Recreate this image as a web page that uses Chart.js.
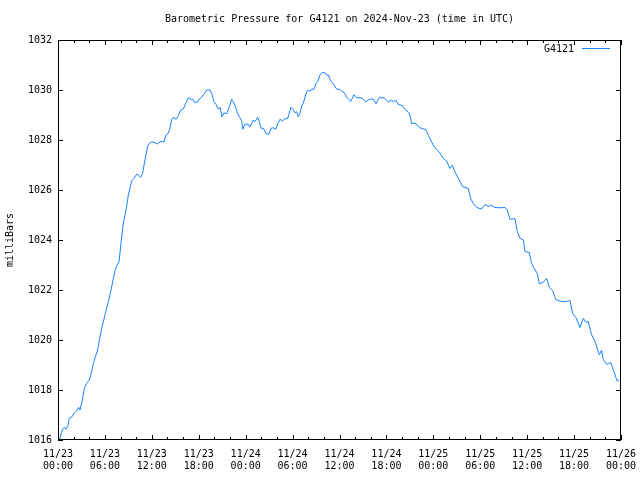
<!DOCTYPE html>
<html lang="en">
<head>
    <meta charset="UTF-8">
    <title>Barometric Pressure for G4121</title>
    <script src="https://cdn.jsdelivr.net/npm/chart.js"></script>
    <style>
        body { margin: 0; background: #fff; }
        #wrap { width: 640px; height: 480px; }
    </style>
</head>
<body>
    <div id="wrap">
        <canvas id="pressureChart" width="640" height="480"></canvas>
    </div>

    <script>
        // hours since 11/23 00:00 UTC
        const hours = [
            0.13, 0.2, 0.45, 0.6, 0.81, 1.02, 1.24, 1.45, 1.79, 2.09, 2.39, 2.64, 2.81, 3.07, 3.37, 3.67,
            4.01, 4.26, 4.52, 4.77, 5.07, 5.28, 5.58, 6.01, 6.44, 6.78, 7.08, 7.37, 7.63, 7.8, 7.97, 8.14,
            8.35, 8.57, 8.78, 8.99, 9.21, 9.42, 9.72, 10.06, 10.27, 10.57, 10.83, 11.04, 11.25, 11.47, 11.76, 11.98,
            12.4, 12.7, 13.04, 13.55, 13.81, 14.1, 14.32, 14.54, 14.83, 15.09, 15.38, 15.69, 16.03, 16.33, 16.67, 16.97,
            17.22, 17.43, 17.81, 18.07, 18.37, 18.67, 19.01, 19.44, 19.69, 19.95, 20.2, 20.5, 20.72, 20.97, 21.23, 21.57,
            21.83, 22.0, 22.21, 22.42, 22.67, 22.93, 23.19, 23.49, 23.62, 23.91, 24.34, 24.55, 24.98, 25.19, 25.53, 25.75,
            25.96, 26.26, 26.47, 26.69, 26.98, 27.24, 27.53, 27.84, 28.09, 28.39, 28.69, 28.94, 29.37, 29.58, 29.8, 30.09,
            30.31, 30.52, 30.73, 30.95, 31.16, 31.37, 31.59, 31.8, 32.01, 32.23, 32.44, 32.74, 32.95, 33.21, 33.5, 33.8,
            34.14, 34.36, 34.57, 34.78, 35.08, 35.33, 35.64, 36.06, 36.36, 36.62, 36.92, 37.43, 37.85, 38.2, 38.84, 39.35,
            39.68, 39.99, 40.32, 40.66, 41.09, 41.69, 42.24, 42.67, 42.88, 43.18, 43.52, 44.07, 44.37, 44.93, 45.23, 45.65,
            46.29, 47.06, 47.36, 47.78, 48.21, 48.76, 49.28, 49.7, 50.13, 50.43, 50.77, 51.2, 51.75, 52.47, 52.77, 53.11,
            53.54, 54.18, 54.6, 55.02, 55.46, 55.88, 56.52, 57.16, 57.46, 57.8, 58.44, 58.74, 59.08, 59.51, 59.72, 60.27,
            60.57, 60.87, 61.29, 61.55, 62.06, 62.49, 62.83, 63.26, 63.68, 64.41, 64.96, 65.47, 65.82, 66.24, 66.75, 67.18,
            67.52, 67.8, 68.24, 68.67, 69.22, 69.52, 69.73, 70.17, 70.68, 71.01, 71.52, 71.78
        ];

        // milliBars
        const pressure = [
            1016.0, 1016.05, 1016.3, 1016.43, 1016.51, 1016.43, 1016.53, 1016.87, 1016.93, 1017.09, 1017.17, 1017.31, 1017.2, 1017.53, 1018.07, 1018.27,
            1018.4, 1018.67, 1019.07, 1019.33, 1019.6, 1019.98, 1020.45, 1021.0, 1021.53, 1022.0, 1022.47, 1022.87, 1023.04, 1023.13, 1023.6, 1024.13,
            1024.67, 1025.0, 1025.33, 1025.8, 1026.07, 1026.37, 1026.47, 1026.63, 1026.6, 1026.51, 1026.67, 1027.07, 1027.4, 1027.76, 1027.89, 1027.93,
            1027.89, 1027.84, 1027.93, 1027.93, 1028.2, 1028.27, 1028.47, 1028.83, 1028.91, 1028.83, 1028.96, 1029.2, 1029.24, 1029.47, 1029.69, 1029.63,
            1029.63, 1029.51, 1029.51, 1029.65, 1029.71, 1029.84, 1030.0, 1030.0, 1029.84, 1029.53, 1029.43, 1029.23, 1029.31, 1028.93, 1029.09, 1029.04,
            1029.27, 1029.4, 1029.63, 1029.53, 1029.36, 1029.09, 1028.93, 1028.77, 1028.43, 1028.63, 1028.63, 1028.52, 1028.8, 1028.73, 1028.91, 1028.73,
            1028.47, 1028.47, 1028.33, 1028.24, 1028.24, 1028.47, 1028.49, 1028.43, 1028.64, 1028.83, 1028.76, 1028.83, 1028.87, 1029.07, 1029.31, 1029.2,
            1029.09, 1029.13, 1028.93, 1029.07, 1029.36, 1029.47, 1029.71, 1029.93, 1030.0, 1029.95, 1030.03, 1030.03, 1030.24, 1030.33, 1030.6, 1030.71,
            1030.69, 1030.6, 1030.6, 1030.43, 1030.29, 1030.2, 1030.03, 1030.03, 1029.93, 1029.89, 1029.71, 1029.54, 1029.81, 1029.69, 1029.69, 1029.52,
            1029.6, 1029.64, 1029.64, 1029.45, 1029.69, 1029.69, 1029.52, 1029.6, 1029.52, 1029.6, 1029.42, 1029.38, 1029.22, 1029.08, 1028.65, 1028.68,
            1028.49, 1028.41, 1028.19, 1027.92, 1027.69, 1027.52, 1027.26, 1027.16, 1026.86, 1026.99, 1026.72, 1026.46, 1026.13, 1026.06, 1025.66, 1025.46,
            1025.3, 1025.24, 1025.42, 1025.35, 1025.39, 1025.3, 1025.29, 1025.3, 1025.2, 1024.82, 1024.86, 1024.33, 1024.07, 1024.0, 1023.54, 1023.5,
            1023.07, 1022.87, 1022.67, 1022.25, 1022.31, 1022.47, 1022.11, 1021.98, 1021.61, 1021.54, 1021.54, 1021.58, 1021.06, 1020.9, 1020.5, 1020.87,
            1020.7, 1020.75, 1020.21, 1019.95, 1019.41, 1019.59, 1019.22, 1019.02, 1019.11, 1018.82, 1018.35, 1018.42
        ];

        // x tick labels, one per 6 hours
        const tickDays = ['11/23', '11/23', '11/23', '11/23', '11/24', '11/24', '11/24', '11/24', '11/25', '11/25', '11/25', '11/25', '11/26'];
        const tickTimes = ['00:00', '06:00', '12:00', '18:00', '00:00', '06:00', '12:00', '18:00', '00:00', '06:00', '12:00', '18:00', '00:00'];

        const titleText = 'Barometric Pressure for G4121 on 2024-Nov-23 (time in UTC)';

        const FONT = { family: 'DejaVu Sans Mono', size: 10, weight: 'normal' };
        const LINE_COLOR = '#1482ff';

        // gnuplot style frame, inward ticks, title over the plot and legend in the top right corner
        const framePlugin = {
            id: 'frame',
            afterDraw(chart) {
                const ctx = chart.ctx;
                const a = chart.chartArea;
                const xs = chart.scales.x;
                const ys = chart.scales.y;
                ctx.save();
                ctx.strokeStyle = '#000';
                ctx.lineWidth = 1;
                ctx.strokeRect(Math.round(a.left) + 0.5, Math.round(a.top) + 0.5,
                    Math.round(a.right - a.left) - 1, Math.round(a.bottom - a.top) - 1);

                ctx.beginPath();
                for (let h = 0; h <= 72; h += 2) {
                    const px = Math.round(xs.getPixelForValue(h)) + 0.5;
                    const len = h % 6 === 0 ? 5 : 3;
                    ctx.moveTo(px, a.bottom);
                    ctx.lineTo(px, a.bottom - len);
                    ctx.moveTo(px, a.top);
                    ctx.lineTo(px, a.top + len);
                }
                for (let v = 1016; v <= 1032; v += 2) {
                    const py = Math.round(ys.getPixelForValue(v)) + 0.5;
                    ctx.moveTo(a.left, py);
                    ctx.lineTo(a.left + 5, py);
                    ctx.moveTo(a.right, py);
                    ctx.lineTo(a.right - 5, py);
                }
                ctx.stroke();

                ctx.font = '10px "DejaVu Sans Mono"';
                ctx.fillStyle = '#000';
                ctx.textBaseline = 'middle';

                // title
                ctx.textAlign = 'center';
                ctx.fillText(titleText, (a.left + a.right) / 2, 19);

                // legend
                ctx.textAlign = 'right';
                ctx.fillText(chart.data.datasets[0].label, a.right - 47, a.top + 9);
                ctx.strokeStyle = LINE_COLOR;
                ctx.beginPath();
                ctx.moveTo(a.right - 39, a.top + 8.5);
                ctx.lineTo(a.right - 11, a.top + 8.5);
                ctx.stroke();
                ctx.restore();
            }
        };

        const ctx = document.getElementById('pressureChart').getContext('2d');
        const chart = new Chart(ctx, {
            type: 'line',
            data: {
                datasets: [{
                    label: 'G4121',
                    data: hours.map((h, i) => ({ x: h, y: pressure[i] })),
                    borderColor: LINE_COLOR,
                    borderWidth: 1,
                    pointRadius: 0,
                    tension: 0,
                    fill: false
                }]
            },
            options: {
                responsive: false,
                animation: false,
                layout: { padding: { top: 40, right: 19, bottom: 0, left: 0 } },
                plugins: {
                    legend: { display: false },
                    tooltip: { enabled: false },
                    title: { display: false }
                },
                scales: {
                    x: {
                        type: 'linear',
                        min: 0,
                        max: 72,
                        grid: { display: false, drawTicks: false },
                        border: { display: false },
                        ticks: {
                            stepSize: 6,
                            autoSkip: false,
                            maxRotation: 0,
                            padding: 8,
                            color: '#000',
                            font: FONT,
                            callback: (v) => {
                                const i = Math.round(v / 6);
                                return [tickDays[i], tickTimes[i]];
                            }
                        },
                        afterFit(scale) {
                            scale.height = 40;
                            scale.paddingLeft = 0;
                            scale.paddingRight = 0;
                        }
                    },
                    y: {
                        min: 1016,
                        max: 1032,
                        grid: { display: false, drawTicks: false },
                        border: { display: false },
                        ticks: {
                            stepSize: 2,
                            padding: 6,
                            color: '#000',
                            font: FONT,
                            callback: (v) => String(v)
                        },
                        title: {
                            display: true,
                            text: 'milliBars',
                            color: '#000',
                            font: FONT,
                            padding: { top: 4, bottom: 0 }
                        },
                        afterFit(scale) {
                            scale.width = 58;
                            scale.paddingTop = 0;
                            scale.paddingBottom = 0;
                        }
                    }
                }
            },
            plugins: [framePlugin]
        });
    </script>
</body>
</html>
